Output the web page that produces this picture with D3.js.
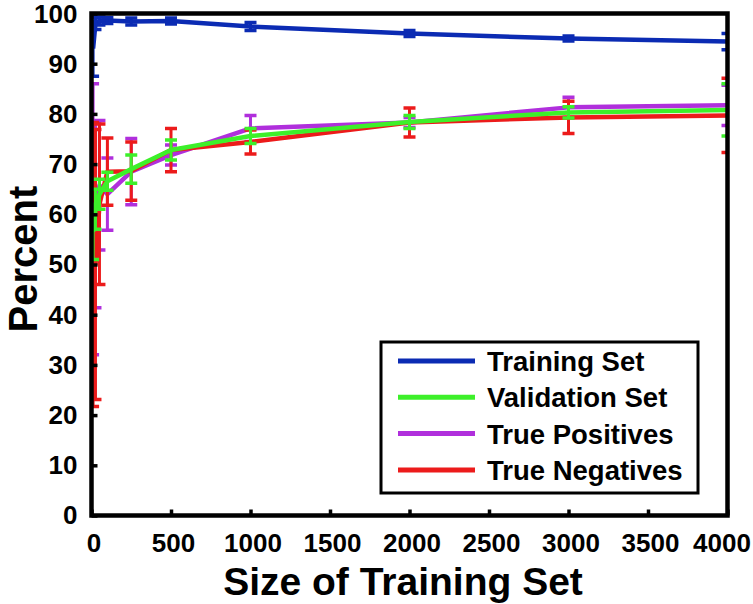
<!DOCTYPE html>
<html><head><meta charset="utf-8">
<script src="https://cdn.jsdelivr.net/npm/d3@7"></script>
<style>html,body{margin:0;padding:0;background:#fff}</style>
</head><body><svg id="c" width="753" height="604"></svg>
<script>
// ---- data ----
const sizes = [10, 25, 50, 100, 250, 500, 1000, 2000, 3000, 4000];
const trainingSet    = [93.0, 98.0, 98.5, 98.6, 98.4, 98.5, 97.4, 96.0, 95.0, 94.4];
const trainingErr    = [5.5, 1.2, 0.8, 0.6, 0.7, 0.6, 0.8, 0.6, 0.5, 1.6];
const validationSet  = [56.5, 61.0, 64.0, 66.6, 69.0, 72.8, 75.6, 78.4, 80.3, 80.8];
const validationErr  = [5.5, 4.0, 3.0, 1.8, 2.8, 2.0, 1.5, 1.3, 1.1, 5.2];
const truePositives  = [59.0, 60.0, 65.8, 64.0, 68.5, 71.8, 77.1, 78.3, 81.3, 81.7];
const truePosErr     = [27.0, 18.6, 12.9, 7.2, 6.6, 2.0, 2.6, 1.0, 2.0, 4.0];
const trueNegatives  = [50.0, 50.0, 62.0, 68.5, 68.6, 72.8, 74.4, 78.3, 79.3, 79.7];
const trueNegErr     = [28.3, 26.9, 16.0, 6.7, 5.8, 4.3, 2.4, 2.9, 3.2, 7.4];
const seriesNames = ["Training Set", "Validation Set", "True Positives", "True Negatives"];
const xTicks = [0, 500, 1000, 1500, 2000, 2500, 3000, 3500, 4000];
const yTicks = [0, 10, 20, 30, 40, 50, 60, 70, 80, 90, 100];
const xTitle = "Size of Training Set";
const yTitle = "Percent";

// ---- drawing ----
const FONT = "'Liberation Sans', Arial, Helvetica, sans-serif";
const colors = {"Training Set":"#0b2bb3","Validation Set":"#3df02a","True Positives":"#b02fdc","True Negatives":"#ec1b1b"};
const series = [
  {name:"Training Set", v:trainingSet, e:trainingErr},
  {name:"True Positives", v:truePositives, e:truePosErr},
  {name:"True Negatives", v:trueNegatives, e:trueNegErr},
  {name:"Validation Set", v:validationSet, e:validationErr}
];

const svg = d3.select("#c");
const x = d3.scaleLinear().domain([0, 4000]).range([91.5, 727.5]);
const y = d3.scaleLinear().domain([0, 100]).range([515.5, 13.5]);

svg.append("defs").append("clipPath").attr("id","plotclip")
  .append("rect").attr("x",x(0)).attr("y",y(100)).attr("width",x(4000)-x(0)).attr("height",y(0)-y(100));

const plot = svg.append("g").attr("clip-path","url(#plotclip)");
const line = d3.line().x(d=>x(d.x)).y(d=>y(d.y)).curve(d3.curveLinear);

series.forEach(s=>{
  const pts = sizes.map((sx,i)=>({x:sx, y:s.v[i], e:s.e[i]}));
  const g = plot.append("g");
  g.append("path").datum(pts).attr("d",line).attr("fill","none")
    .attr("stroke",colors[s.name]).attr("stroke-width",4.5).attr("stroke-linejoin","round");
  const eb = g.selectAll("g.eb").data(pts).join("g").attr("class","eb");
  eb.append("line").attr("x1",d=>x(d.x)).attr("x2",d=>x(d.x))
    .attr("y1",d=>y(d.y-d.e)).attr("y2",d=>y(d.y+d.e))
    .attr("stroke",colors[s.name]).attr("stroke-width",3);
  [-1,1].forEach(sg=>{
    eb.append("line").attr("x1",d=>x(d.x)-6).attr("x2",d=>x(d.x)+6)
      .attr("y1",d=>y(d.y+sg*d.e)).attr("y2",d=>y(d.y+sg*d.e))
      .attr("stroke",colors[s.name]).attr("stroke-width",3.5);
  });
});

// axes
const gx = svg.append("g").attr("transform",`translate(0,${y(0)})`)
  .call(d3.axisBottom(x).tickValues(xTicks).tickSize(-6).tickPadding(18).tickFormat(d=>String(d)));
const gy = svg.append("g").attr("transform",`translate(${x(0)},0)`)
  .call(d3.axisLeft(y).tickValues(yTicks).tickSize(-6).tickPadding(14).tickFormat(d=>String(d)));
[gx,gy].forEach(g=>{
  g.select(".domain").remove();
  g.attr("font-family",FONT).attr("font-size",26).attr("font-weight","bold");
  g.selectAll(".tick line").attr("stroke","#000").attr("stroke-width",3.5);
  g.selectAll(".tick text").attr("fill","#000");
});
gx.selectAll(".tick text").filter(d=>d===4000).attr("dx",-6);
gx.selectAll(".tick text").filter(d=>d!==4000).attr("dx",2);
gy.selectAll(".tick text").filter(d=>d===100).attr("dy","0.36em");

// frame
svg.append("rect").attr("x",x(0)).attr("y",y(100)).attr("width",x(4000)-x(0)).attr("height",y(0)-y(100))
  .attr("fill","none").attr("stroke","#000").attr("stroke-width",4.5);

// titles
svg.append("text").attr("x",403).attr("y",595).attr("text-anchor","middle")
  .attr("font-family",FONT).attr("font-weight","bold").attr("font-size",39).text(xTitle);
svg.append("text").attr("transform","translate(37,259) rotate(-90)").attr("text-anchor","middle")
  .attr("font-family",FONT).attr("font-weight","bold").attr("font-size",40).text(yTitle);

// legend
const lg = svg.append("g");
lg.append("rect").attr("x",381).attr("y",342).attr("width",317).attr("height",151)
  .attr("fill","#fff").attr("stroke","#000").attr("stroke-width",3);
seriesNames.forEach((n,i)=>{
  const yy = 361 + i*36.3;
  lg.append("line").attr("x1",398).attr("x2",475).attr("y1",yy).attr("y2",yy)
    .attr("stroke",colors[n]).attr("stroke-width",5);
  lg.append("text").attr("x",487).attr("y",yy+10).attr("font-family",FONT)
    .attr("font-weight","bold").attr("font-size",27.5).attr("fill","#000").text(n);
});
</script></body></html>
